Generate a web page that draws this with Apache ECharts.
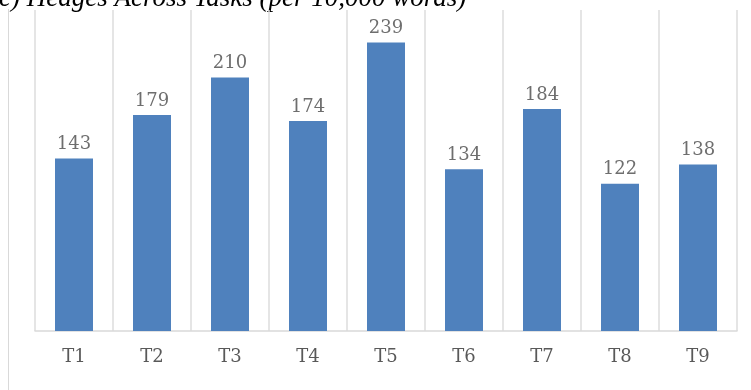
<!DOCTYPE html>
<html>
<head>
<meta charset="utf-8">
<script src="https://cdn.jsdelivr.net/npm/echarts@6/dist/echarts.min.js"></script>
<style>
  html, body { margin: 0; padding: 0; background: #ffffff; }
  #chart { width: 751px; height: 390px; }
</style>
</head>
<body>
<div id="chart"></div>
<script>
// Hedge counts per task, normalised per 10,000 words
const tasks = ['T1', 'T2', 'T3', 'T4', 'T5', 'T6', 'T7', 'T8', 'T9'];
const hedges = [143, 179, 210, 174, 239, 134, 184, 122, 138];
const chartTitle = 'c) Hedges Across Tasks (per 10,000 words)';

const chart = echarts.init(document.getElementById('chart'), null, { renderer: 'canvas' });

chart.setOption({
  animation: false,
  backgroundColor: '#ffffff',
  grid: { left: 35, right: 14, top: 10, bottom: 59, containLabel: false },
  graphic: [
    {
      type: 'text',
      left: -1,
      top: -15,
      style: {
        text: chartTitle,
        font: 'italic 27px "Liberation Serif", serif',
        fill: '#000000'
      }
    },
    {
      type: 'line',
      shape: { x1: 8.5, y1: 9, x2: 8.5, y2: 390 },
      style: { stroke: '#d9d9d9', lineWidth: 1 }
    }
  ],
  xAxis: {
    type: 'category',
    data: tasks,
    boundaryGap: true,
    axisLine: { show: true, lineStyle: { color: '#d9d9d9', width: 1.5 } },
    axisTick: { show: false },
    splitLine: {
      show: true,
      // no divider after the last category
      interval: function (index) { return index < tasks.length; },
      lineStyle: { color: '#dcdcdc', width: 1.5 }
    },
    axisLabel: {
      color: '#595959',
      fontFamily: '"DejaVu Serif", serif',
      fontSize: 18,
      margin: 17
    }
  },
  yAxis: {
    type: 'value',
    min: 0,
    max: 266,
    show: false,
    splitLine: { show: false }
  },
  series: [{
    type: 'bar',
    data: hedges,
    barWidth: 38,
    itemStyle: { color: '#4f81bd' },
    label: {
      show: true,
      position: 'top',
      distance: 5,
      color: '#6e6e6e',
      fontFamily: '"DejaVu Serif", serif',
      fontSize: 18
    }
  }]
});
</script>
</body>
</html>
